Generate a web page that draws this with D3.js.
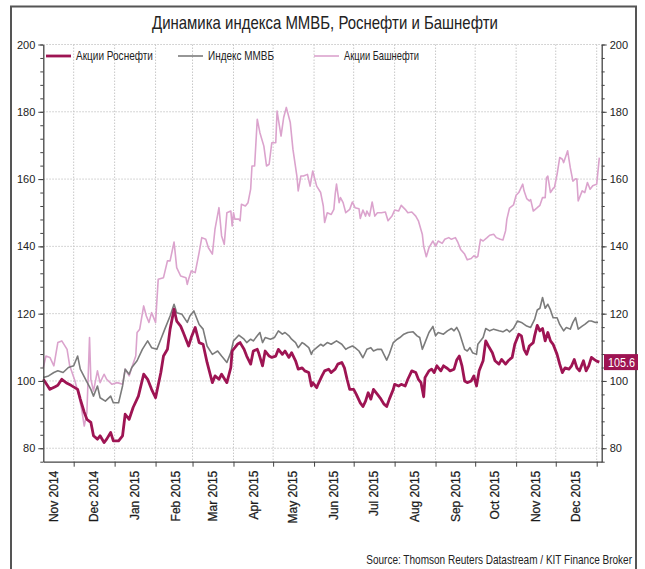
<!DOCTYPE html>
<html><head><meta charset="utf-8">
<script src="https://cdn.jsdelivr.net/npm/d3@7/dist/d3.min.js"></script>
<style>
body{margin:0;background:#fff;}
svg{display:block;}
.narrow{font-family:'Liberation Sans',Arial,sans-serif;}
</style></head>
<body>
<svg id="chart" width="645" height="569"></svg>
<script>
const titleText = "Динамика индекса ММВБ, Роснефти и Башнефти";
const sourceText = "Source: Thomson Reuters Datastream / KIT Finance Broker";
const seriesNames = ["Акции Роснефти", "Индекс ММВБ", "Акции Башнефти"];
const monthLabels = ["Nov 2014","Dec 2014","Jan 2015","Feb 2015","Mar 2015","Apr 2015","May 2015","Jun 2015","Jul 2015","Aug 2015","Sep 2015","Oct 2015","Nov 2015","Dec 2015"];
const yTickValues = [80,100,120,140,160,180,200];
const lastLabel = "105.6";

const rosDates = ["2014-11-08","2014-11-11","2014-11-13","2014-11-17","2014-11-19","2014-11-22","2014-11-26","2014-11-29","2014-12-04","2014-12-06","2014-12-09","2014-12-11","2014-12-14","2014-12-16","2014-12-19","2014-12-21","2014-12-24","2014-12-26","2014-12-29","2014-12-31","2015-01-04","2015-01-07","2015-01-09","2015-01-12","2015-01-15","2015-01-19","2015-01-23","2015-01-26","2015-01-29","2015-02-01","2015-02-05","2015-02-07","2015-02-10","2015-02-12","2015-02-15","2015-02-17","2015-02-20","2015-02-22","2015-02-26","2015-02-28","2015-03-03","2015-03-06","2015-03-09","2015-03-12","2015-03-16","2015-03-18","2015-03-21","2015-03-23","2015-03-27","2015-03-30","2015-03-31","2015-04-04","2015-04-06","2015-04-09","2015-04-11","2015-04-14","2015-04-16","2015-04-19","2015-04-20","2015-04-23","2015-04-25","2015-04-28","2015-04-30","2015-05-03","2015-05-05","2015-05-08","2015-05-10","2015-05-13","2015-05-15","2015-05-18","2015-05-20","2015-05-23","2015-05-25","2015-05-28","2015-05-30","2015-05-31","2015-06-03","2015-06-04","2015-06-07","2015-06-09","2015-06-12","2015-06-14","2015-06-17","2015-06-19","2015-06-22","2015-06-24","2015-06-26","2015-06-28","2015-07-01","2015-07-03","2015-07-06","2015-07-08","2015-07-10","2015-07-12","2015-07-14","2015-07-16","2015-07-19","2015-07-21","2015-07-24","2015-07-26","2015-07-28","2015-07-31","2015-08-01","2015-08-04","2015-08-06","2015-08-09","2015-08-11","2015-08-14","2015-08-17","2015-08-19","2015-08-21","2015-08-23","2015-08-24","2015-08-27","2015-08-29","2015-08-31","2015-09-02","2015-09-05","2015-09-07","2015-09-10","2015-09-12","2015-09-15","2015-09-17","2015-09-19","2015-09-21","2015-09-23","2015-09-25","2015-09-28","2015-09-30","2015-10-02","2015-10-04","2015-10-07","2015-10-09","2015-10-11","2015-10-14","2015-10-16","2015-10-19","2015-10-21","2015-10-24","2015-10-26","2015-10-29","2015-10-31","2015-11-03","2015-11-05","2015-11-07","2015-11-09","2015-11-11","2015-11-14","2015-11-15","2015-11-17","2015-11-19","2015-11-21","2015-11-23","2015-11-25","2015-11-27","2015-11-29","2015-12-02","2015-12-04","2015-12-06","2015-12-08","2015-12-11","2015-12-13","2015-12-15","2015-12-17","2015-12-19","2015-12-22","2015-12-24","2015-12-26","2015-12-28","2015-12-30","2016-01-01","2016-01-03"];
const rosValues = [100.5,98.7,97.5,98.3,98.7,100.5,99.3,98.7,97.5,94.6,90.7,88.6,87.7,83.7,82.7,83.7,81.7,82.7,84.7,82.2,82.2,83.7,90.1,88.6,92.1,95.5,102,100.5,97.5,95,102.5,107.4,109.4,115.4,121.3,117.8,116.3,114.4,110.4,112.9,115.9,111.4,110.9,105.5,99.5,101.5,100.5,102,99.5,104,108.9,110.9,111.4,109.4,107.4,105,108.9,109.4,108.4,104.5,108.9,107.4,107,107.4,109.4,107.9,108.9,107,108.4,106,103.5,103.9,103,102.5,98.5,99.5,98,99,101.5,103,103.5,102.5,103.5,105,105.5,103.9,100.5,97.5,97.5,96,93.5,92.4,94,96.5,94.6,97.5,96,95,93.1,92.4,94.6,97.5,99,98.5,99,98.5,100.5,103,102.5,100.5,99.5,95.3,101,103,103.5,102.5,104.5,103,104.5,103.7,103,103.5,106.2,107.4,104.5,100,99.5,100,101.5,98.5,103,106,111.9,110.4,108.4,106,105,106.4,105,106,107,110.9,113.9,113.4,109.4,107.9,110.4,111.4,113.4,116.5,114.9,115.6,111.9,114.4,111.9,110.9,107.9,105,102.5,103.9,103.5,104.5,106.4,103.9,103,106,103,104.5,107,106.4,105.9,105.6];

const micDates = ["2014-11-08","2014-11-12","2014-11-16","2014-11-19","2014-11-23","2014-11-27","2014-12-01","2014-12-04","2014-12-06","2014-12-10","2014-12-14","2014-12-16","2014-12-19","2014-12-21","2014-12-25","2014-12-29","2014-12-31","2015-01-04","2015-01-07","2015-01-09","2015-01-12","2015-01-14","2015-01-18","2015-01-22","2015-01-26","2015-01-29","2015-02-02","2015-02-05","2015-02-08","2015-02-12","2015-02-15","2015-02-17","2015-02-21","2015-02-25","2015-02-27","2015-03-02","2015-03-06","2015-03-09","2015-03-12","2015-03-16","2015-03-20","2015-03-23","2015-03-27","2015-03-30","2015-04-01","2015-04-05","2015-04-09","2015-04-11","2015-04-14","2015-04-16","2015-04-19","2015-04-21","2015-04-23","2015-04-25","2015-04-29","2015-05-02","2015-05-05","2015-05-08","2015-05-10","2015-05-13","2015-05-15","2015-05-18","2015-05-20","2015-05-23","2015-05-25","2015-05-28","2015-05-30","2015-05-31","2015-06-03","2015-06-06","2015-06-08","2015-06-11","2015-06-14","2015-06-18","2015-06-22","2015-06-25","2015-06-27","2015-06-30","2015-07-02","2015-07-05","2015-07-08","2015-07-11","2015-07-14","2015-07-16","2015-07-19","2015-07-22","2015-07-26","2015-07-28","2015-07-31","2015-08-03","2015-08-05","2015-08-08","2015-08-11","2015-08-15","2015-08-18","2015-08-20","2015-08-22","2015-08-24","2015-08-27","2015-08-30","2015-09-01","2015-09-03","2015-09-07","2015-09-10","2015-09-13","2015-09-15","2015-09-17","2015-09-19","2015-09-21","2015-09-23","2015-09-25","2015-09-27","2015-09-29","2015-10-02","2015-10-03","2015-10-07","2015-10-09","2015-10-12","2015-10-15","2015-10-19","2015-10-22","2015-10-25","2015-10-27","2015-10-30","2015-11-02","2015-11-05","2015-11-09","2015-11-12","2015-11-15","2015-11-17","2015-11-19","2015-11-21","2015-11-23","2015-11-25","2015-11-27","2015-11-29","2015-12-02","2015-12-04","2015-12-07","2015-12-09","2015-12-12","2015-12-14","2015-12-16","2015-12-18","2015-12-21","2015-12-23","2015-12-26","2015-12-28","2015-12-31","2016-01-02"];
const micValues = [101,101.5,102.5,103,102.5,104,104.5,107.4,103.5,100.5,97.5,95.5,98.5,95,94,95.5,93.5,93.5,98.5,103.5,102,104,106,109.4,111.9,109.9,109.4,112.4,115.4,119.3,122.8,120.3,119.8,117.4,119.3,120.8,116.8,115.4,110.4,107.9,108.9,107.4,105.5,108.5,111.9,113.6,112.4,111.4,112.4,111.9,113.4,114.4,111.4,112.9,112.4,112.9,114.9,113.9,114.4,113.4,112.4,111.4,109.9,111.4,110.9,109.9,107.9,108.9,109.9,110.9,110.4,111.4,110.9,111.9,110.9,109.4,109.9,110.4,109.9,108.9,106.9,109.4,109.9,108.9,109.4,109.4,106.2,108,111.4,112.4,112.9,113.9,114.4,114.6,113.4,112.9,109.4,111.4,114.4,116.2,113.4,114.4,113.9,114.9,115.6,114.9,115.9,114.4,111.9,109.4,108.9,109.9,108.4,107.9,110.9,112.9,115.6,114.9,115.4,114.9,114.6,115.3,114.6,115.6,117.8,117.4,116.3,115.9,118.3,121.1,121.6,124.8,121.6,122.8,121.1,118.8,118.8,116.8,114.9,115.9,115.4,117.4,118.8,115.4,116.3,116.8,117.8,117.8,117.4,117.4];

const bashDates = ["2014-11-08","2014-11-10","2014-11-13","2014-11-16","2014-11-19","2014-11-22","2014-11-26","2014-11-28","2014-12-02","2014-12-05","2014-12-07","2014-12-09","2014-12-11","2014-12-12","2014-12-13","2014-12-14","2014-12-16","2014-12-19","2014-12-21","2014-12-24","2014-12-26","2014-12-30","2015-01-03","2015-01-07","2015-01-09","2015-01-12","2015-01-14","2015-01-17","2015-01-18","2015-01-20","2015-01-23","2015-01-25","2015-01-27","2015-01-29","2015-02-01","2015-02-03","2015-02-07","2015-02-10","2015-02-12","2015-02-15","2015-02-17","2015-02-20","2015-02-24","2015-02-25","2015-02-26","2015-02-28","2015-03-03","2015-03-06","2015-03-08","2015-03-11","2015-03-13","2015-03-16","2015-03-18","2015-03-21","2015-03-23","2015-03-25","2015-03-27","2015-03-30","2015-03-31","2015-04-01","2015-04-02","2015-04-05","2015-04-06","2015-04-07","2015-04-10","2015-04-12","2015-04-14","2015-04-15","2015-04-17","2015-04-19","2015-04-21","2015-04-24","2015-04-26","2015-04-28","2015-04-30","2015-05-03","2015-05-04","2015-05-07","2015-05-09","2015-05-11","2015-05-14","2015-05-16","2015-05-19","2015-05-20","2015-05-22","2015-05-24","2015-05-27","2015-05-29","2015-05-31","2015-06-03","2015-06-06","2015-06-08","2015-06-09","2015-06-11","2015-06-14","2015-06-16","2015-06-17","2015-06-18","2015-06-20","2015-06-21","2015-06-23","2015-06-25","2015-06-28","2015-06-30","2015-07-02","2015-07-05","2015-07-06","2015-07-08","2015-07-10","2015-07-11","2015-07-13","2015-07-15","2015-07-17","2015-07-19","2015-07-22","2015-07-25","2015-07-27","2015-07-30","2015-08-01","2015-08-04","2015-08-06","2015-08-09","2015-08-11","2015-08-14","2015-08-17","2015-08-19","2015-08-22","2015-08-23","2015-08-25","2015-08-27","2015-08-30","2015-09-01","2015-09-03","2015-09-06","2015-09-08","2015-09-11","2015-09-13","2015-09-16","2015-09-18","2015-09-20","2015-09-23","2015-09-25","2015-09-28","2015-09-30","2015-10-02","2015-10-03","2015-10-05","2015-10-07","2015-10-10","2015-10-12","2015-10-15","2015-10-17","2015-10-20","2015-10-22","2015-10-24","2015-10-25","2015-10-27","2015-10-30","2015-11-01","2015-11-03","2015-11-06","2015-11-07","2015-11-09","2015-11-11","2015-11-12","2015-11-14","2015-11-17","2015-11-19","2015-11-21","2015-11-23","2015-11-24","2015-11-25","2015-11-27","2015-11-29","2015-11-30","2015-12-02","2015-12-04","2015-12-06","2015-12-07","2015-12-10","2015-12-12","2015-12-14","2015-12-16","2015-12-17","2015-12-18","2015-12-21","2015-12-23","2015-12-25","2015-12-27","2015-12-29","2016-01-01","2016-01-03"];
const bashValues = [104,107.4,107,104.5,111.4,111.9,109.4,104.5,100,95.5,91.6,86.6,90.6,101.5,112.9,100.5,97,103,99.5,102,100.5,99,99.5,99,103.5,101.5,104,107.4,114.4,115.4,122.3,119.3,117.4,120.3,117.4,130.2,130.7,135.7,135.7,141.3,133.7,131.2,130.7,128.7,130.2,132.7,132.2,138.2,142.6,142.1,139.6,137.7,145.1,151.5,143.1,140.6,150,150.5,146.1,150,148.1,148.1,147.6,152.5,152,153,157,163.9,163.9,177.8,173.8,169.8,163.9,164.4,170.8,170.8,180.2,172.8,178.3,181.3,176.8,168.9,160.9,156.5,160.9,160.9,161.4,157.9,162.4,157.9,156,152,147.1,150,149.5,151,155.5,158.5,153,154.5,153,150,151,153.2,151.5,151.2,148.3,150.8,149,150.5,149,153.2,149,150,150,150.2,147.6,149,150.8,150.5,152.2,151,150,150.2,149,147.6,143.5,140,136.9,139.6,141.6,140,141.6,140.9,142.1,142.6,142.1,142.6,141.1,139.1,137.7,136,136.4,137.2,136.7,137,142.1,141.6,142.6,143.3,143.6,142.6,142.1,141.9,144.6,148.1,151.4,152.3,155.2,156,158.5,156.5,154.2,153.5,153.9,150.5,151.5,152.2,154.5,154.5,160.4,160.9,156,157.2,157.5,161.4,166.4,165.9,164.9,168.4,163.4,159.4,160.1,160,153.5,156.5,156,159,157,158,158.5,166.4];

const parse = d3.timeParse("%Y-%m-%d");
const mk = (ds, vs) => ds.map((d, i) => ({date: parse(d), value: vs[i]}));
const colors = {ros: "#9e1453", mic: "#7b7b7b", bash: "#dba3cd"};
const series = [
  {name: seriesNames[2], data: mk(bashDates, bashValues), color: colors.bash, width: 1.6},
  {name: seriesNames[1], data: mk(micDates, micValues), color: colors.mic, width: 1.6},
  {name: seriesNames[0], data: mk(rosDates, rosValues), color: colors.ros, width: 2.8}
];

const svg = d3.select("#chart");
const m = {left: 43.3, right: 601.7, top: 44.5, bottom: 461.7};

// condensed text: draw at natural font, then squeeze horizontally to a target width
function narrowText(sel, tx, ty, width, anchor) {
  const n = sel.node().getComputedTextLength();
  const k = Math.min(1, width / n);
  sel.attr("text-anchor", anchor || "start")
     .attr("transform", `translate(${tx},${ty}) scale(${k},1)`);
  return sel;
}

// frame
svg.append("rect").attr("x", 11).attr("y", 6.5).attr("width", 625).attr("height", 600)
  .attr("fill", "none").attr("stroke", "#555").attr("stroke-width", 2);

const x = d3.scaleTime()
  .domain([new Date(2014, 10, 8), new Date(2016, 0, 4, 19)])
  .range([m.left, m.right]);
const y = d3.scaleLinear().domain([76, 200]).range([m.bottom, m.top]);

const monthTicks = d3.timeMonth.range(new Date(2014, 11, 1), new Date(2016, 0, 2));
const labelMonths = d3.timeMonth.range(new Date(2014, 10, 1), new Date(2015, 11, 2));

// grid
const grid = svg.append("g");
grid.selectAll("line.v").data(monthTicks).join("line")
  .attr("x1", d => x(d)).attr("x2", d => x(d)).attr("y1", m.top).attr("y2", m.bottom)
  .attr("stroke", "#c8c8c8").attr("stroke-width", 1).attr("stroke-dasharray", "1.5,1.5");
grid.selectAll("line.h").data(yTickValues).join("line")
  .attr("x1", m.left).attr("x2", m.right).attr("y1", d => y(d)).attr("y2", d => y(d))
  .attr("stroke", "#c8c8c8").attr("stroke-width", 1).attr("stroke-dasharray", "1.5,1.5");

// lines
const line = d3.line().x(d => x(d.date)).y(d => y(d.value));
const lg = svg.append("g");
series.forEach(s => {
  lg.append("path").datum(s.data).attr("d", line)
    .attr("fill", "none").attr("stroke", s.color).attr("stroke-width", s.width)
    .attr("stroke-linejoin", "round");
});

// axes
const axisColor = "#444";
const minor = d3.range(76, 201, 4);
function styleAxis(g) {
  g.selectAll("path.domain").attr("stroke", axisColor).attr("stroke-width", 1.3);
  g.selectAll(".tick line").attr("stroke", axisColor);
  g.selectAll(".tick text").attr("fill", "#222").attr("font-family", "'Liberation Sans', Arial, sans-serif").attr("font-size", 11);
}
const yl = svg.append("g").attr("transform", `translate(${m.left},0)`)
  .call(d3.axisLeft(y).tickValues(yTickValues).tickSize(5).tickSizeOuter(0).tickPadding(3));
styleAxis(yl);
svg.append("g").attr("transform", `translate(${m.left},0)`)
  .call(d3.axisLeft(y).tickValues(minor).tickSize(3).tickFormat(""))
  .call(g => { g.select(".domain").remove(); g.selectAll("line").attr("stroke", axisColor); });
const yr = svg.append("g").attr("transform", `translate(${m.right},0)`)
  .call(d3.axisRight(y).tickValues(yTickValues).tickSize(5).tickSizeOuter(0).tickPadding(3));
styleAxis(yr);
svg.append("g").attr("transform", `translate(${m.right},0)`)
  .call(d3.axisRight(y).tickValues(minor).tickSize(3).tickFormat(""))
  .call(g => { g.select(".domain").remove(); g.selectAll("line").attr("stroke", axisColor); });

const xa = svg.append("g").attr("transform", `translate(0,${m.bottom})`)
  .call(d3.axisBottom(x).tickValues(monthTicks).tickSize(5).tickSizeOuter(0).tickFormat(""));
xa.select(".domain").attr("stroke", axisColor).attr("stroke-width", 1.3);
xa.selectAll(".tick line").attr("stroke", axisColor);

svg.append("g").selectAll("text").data(labelMonths).join("text")
  .attr("transform", d => `translate(${x(d3.timeDay.offset(d, 15))},${m.bottom + 9}) rotate(-90)`)
  .attr("text-anchor", "end").attr("dy", "0.35em")
  .attr("font-family", "'Liberation Sans', Arial, sans-serif").attr("font-size", 12)
  .attr("fill", "#1a1a1a").attr("stroke", "#1a1a1a").attr("stroke-width", 0.25)
  .text((d, i) => monthLabels[i]);

// title
narrowText(svg.append("text").attr("class", "narrow")
  .attr("font-size", 19).attr("fill", "#222").text(titleText), 152, 29, 346, "start");

// legend
const legendItems = [
  {name: seriesNames[0], color: colors.ros, width: 2.8, x: 46, w: 77},
  {name: seriesNames[1], color: colors.mic, width: 1.6, x: 178, w: 66},
  {name: seriesNames[2], color: colors.bash, width: 1.6, x: 314, w: 75}
];
const leg = svg.append("g");
legendItems.forEach(it => {
  leg.append("line").attr("x1", it.x).attr("x2", it.x + 25).attr("y1", 56).attr("y2", 56)
    .attr("stroke", it.color).attr("stroke-width", it.width);
  narrowText(leg.append("text").attr("class", "narrow").attr("dy", "0.35em")
    .attr("font-size", 12.5).attr("fill", "#222").text(it.name), it.x + 30, 56, it.w, "start");
});

// last value label
const last = series[2].data[series[2].data.length - 1];
const ly = y(last.value);
svg.append("rect").attr("x", 604).attr("y", ly - 8).attr("width", 34).attr("height", 16)
  .attr("fill", colors.ros);
narrowText(svg.append("text").attr("class", "narrow").attr("dy", "0.36em")
  .attr("font-size", 13).attr("fill", "#fff").text(lastLabel), 635, ly, 27, "end");

// source
narrowText(svg.append("text").attr("class", "narrow")
  .attr("font-size", 12).attr("fill", "#222").text(sourceText), 632, 564, 266, "end");
</script>
</body></html>
